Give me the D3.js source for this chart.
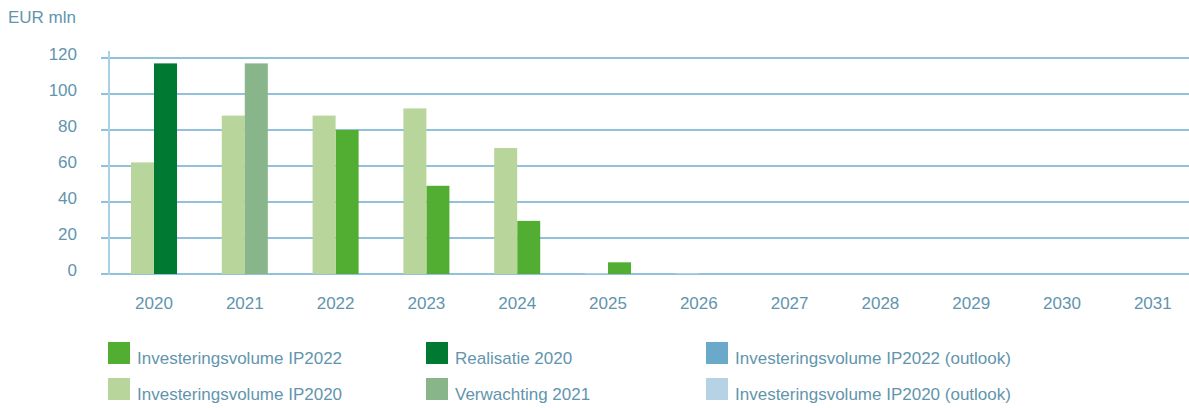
<!DOCTYPE html>
<html>
<head>
<meta charset="utf-8">
<script src="https://cdn.jsdelivr.net/npm/d3@7"></script>
<style>
  body { margin: 0; background: #fff; }
  svg text { font-family: "Liberation Sans", Arial, sans-serif; fill: #6295ad; }
</style>
</head>
<body>
<svg id="chart" width="1189" height="408"></svg>
<script>
// chart data
var years = ["2020","2021","2022","2023","2024","2025","2026","2027","2028","2029","2030","2031"];
var ip2020      = [62, 88, 88, 92, 70, 0, 0, 0, 0, 0, 0, 0];
var ip2022      = [0, 0, 80, 49, 29.5, 6.5, 0, 0, 0, 0, 0, 0];
var realisatie  = [117, 0, 0, 0, 0, 0, 0, 0, 0, 0, 0, 0];
var verwachting = [0, 117, 0, 0, 0, 0, 0, 0, 0, 0, 0, 0];
var ip2022Outlook = [0, 0, 0, 0, 0, 0, 0, 0, 0, 0, 0, 0];
var ip2020Outlook = [0, 0, 0, 0, 0, 0.5, 0.5, 0, 0, 0, 0, 0];
var yTicks = [0, 20, 40, 60, 80, 100, 120];

// series: slot 0 = left bar, slot 1 = right bar
var series = [
  {name: "Investeringsvolume IP2022", values: ip2022, color: "#52ae32", slot: 1},
  {name: "Realisatie 2020", values: realisatie, color: "#007a33", slot: 1},
  {name: "Investeringsvolume IP2022 (outlook)", values: ip2022Outlook, color: "#6aa9c9", slot: 1},
  {name: "Investeringsvolume IP2020", values: ip2020, color: "#b8d69b", slot: 0},
  {name: "Verwachting 2021", values: verwachting, color: "#88b58a", slot: 1},
  {name: "Investeringsvolume IP2020 (outlook)", values: ip2020Outlook, color: "#b5d3e4", slot: 0}
];

var svg = d3.select("#chart");

var x = d3.scaleBand().domain(years).range([108.6, 108.6 + 12 * 90.8]).paddingInner(0.493).paddingOuter(0.2465);
var xSub = d3.scaleBand().domain([0, 1]).range([0, x.bandwidth()]);
var y = d3.scaleLinear().domain([0, 120]).range([274, 58]);

// gridlines
svg.append("g").selectAll("line")
  .data(yTicks).enter()
  .append("line")
  .attr("x1", 101).attr("x2", 1189)
  .attr("y1", function(d){ return y(d); })
  .attr("y2", function(d){ return y(d); })
  .style("stroke", "#6eacd0")
  .style("stroke-width", 1.3);

// vertical axis line
svg.append("line")
  .attr("x1", 109).attr("x2", 109)
  .attr("y1", 51).attr("y2", 275)
  .style("stroke", "#a9d0e4")
  .style("stroke-width", 2);

// y labels
svg.append("g").selectAll("text")
  .data(yTicks).enter()
  .append("text")
  .attr("x", 77)
  .attr("y", function(d){ return y(d) + 2; })
  .attr("text-anchor", "end")
  .style("font-size", "17px")
  .text(function(d){ return d; });

svg.append("text")
  .attr("x", 8).attr("y", 23)
  .style("font-size", "17px")
  .text("EUR mln");

// x labels
svg.append("g").selectAll("text")
  .data(years).enter()
  .append("text")
  .attr("x", function(d){ return x(d) + x.bandwidth() / 2; })
  .attr("y", 309)
  .attr("text-anchor", "middle")
  .style("font-size", "17px")
  .text(function(d){ return d; });

// bars
series.forEach(function(s){
  svg.append("g").selectAll("rect")
    .data(s.values.map(function(v, i){ return {year: years[i], v: v}; }).filter(function(d){ return d.v > 0; }))
    .enter()
    .append("rect")
    .attr("x", function(d){ return x(d.year) + xSub(s.slot); })
    .attr("width", xSub.bandwidth())
    .attr("y", function(d){ return y(d.v); })
    .attr("height", function(d){ return y(0) - y(d.v); })
    .attr("fill", s.color);
});

// legend, 3 columns x 2 rows
var legendX = [108, 426, 706];
var legend = svg.append("g").selectAll("g")
  .data(series).enter()
  .append("g")
  .attr("transform", function(d, i){ return "translate(" + legendX[i % 3] + "," + (342 + Math.floor(i / 3) * 36) + ")"; });

legend.append("rect")
  .attr("width", 22).attr("height", 22)
  .attr("fill", function(d){ return d.color; });

legend.append("text")
  .attr("x", 29).attr("y", 22)
  .style("font-size", "17px")
  .text(function(d){ return d.name; });
</script>
</body>
</html>
